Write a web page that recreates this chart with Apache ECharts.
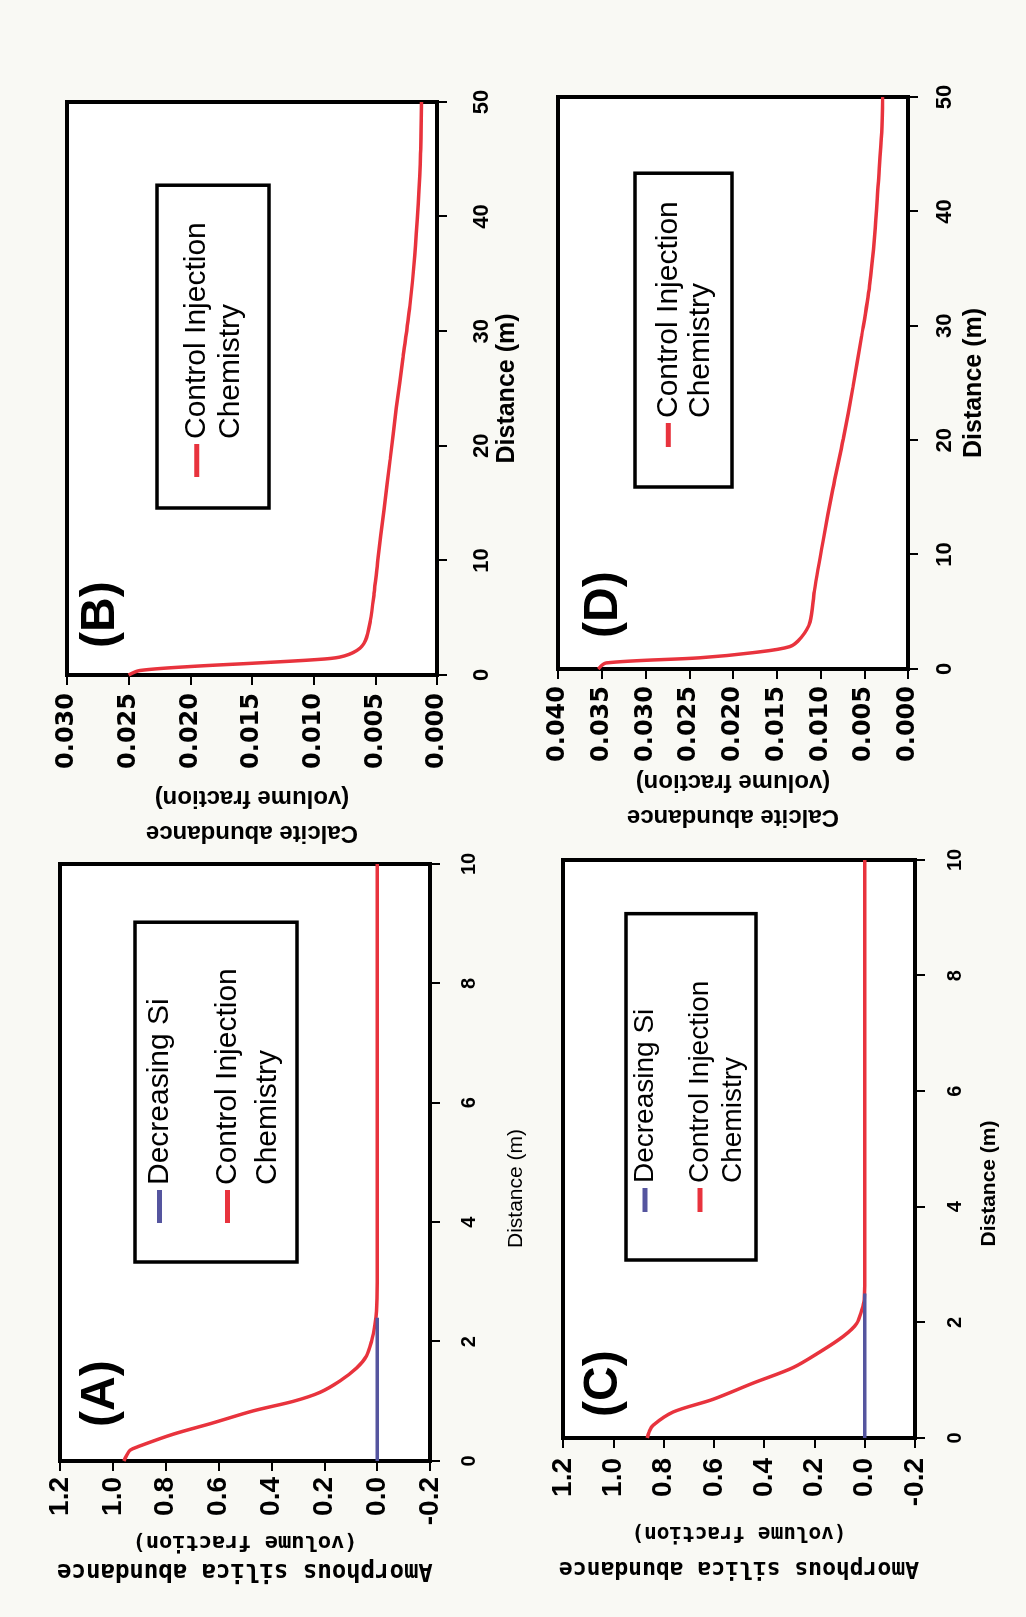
<!DOCTYPE html>
<html>
<head>
<meta charset="utf-8">
<script src="https://cdn.jsdelivr.net/npm/echarts@6/dist/echarts.min.js"></script>
<style>
html,body{margin:0;padding:0;background:#f9f9f4;overflow:hidden;width:1026px;height:1617px;}
#wrap{position:absolute;left:0;top:0;width:1617px;height:1026px;transform-origin:0 0;transform:translate(0,1617px) rotate(-90deg);}
#chart{width:1617px;height:1026px;}
</style>
</head>
<body>
<div id="wrap"><div id="chart"></div></div>
<script>
// ---------------- data ----------------
const CTRL = 'Control Injection Chemistry';
const SI = 'Decreasing Si';

// Panel A: amorphous silica, distance 0-10 m
const distCtrlA   = [0, 0.09, 0.18, 0.24, 0.45, 0.64, 0.84, 1.0, 1.15, 1.34, 1.56, 1.76, 2.01, 2.29, 2.51, 3.0, 4, 6, 8, 10];
const silicaCtrlA = [0.958, 0.948, 0.935, 0.905, 0.771, 0.62, 0.469, 0.317, 0.216, 0.141, 0.077, 0.04, 0.021, 0.008, 0.002, 0.0, 0, 0, 0, 0];
const distSiA     = [0, 0.6, 1.2, 1.8, 2.4];
const silicaSiA   = [0, 0, 0, 0, 0];

// Panel C: amorphous silica, distance 0-10 m
const distCtrlC   = [0, 0.1, 0.22, 0.45, 0.67, 0.95, 1.22, 1.49, 1.76, 1.98, 2.21, 2.39, 3, 4, 6, 8, 10];
const silicaCtrlC = [0.865, 0.858, 0.842, 0.762, 0.603, 0.444, 0.284, 0.178, 0.085, 0.032, 0.012, 0.002, 0, 0, 0, 0, 0];
const distSiC     = [0, 0.6, 1.2, 1.8, 2.5];
const silicaSiC   = [0, 0, 0, 0, 0];

// Panel B: calcite, distance 0-50 m
const distCtrlB    = [0, 0.39, 0.74, 1.03, 1.33, 1.56, 2.14, 3.0, 4.76, 7.1, 10, 14.4, 18.8, 23.3, 27.7, 32.2, 36.6, 41.1, 45.5, 50];
const calciteCtrlB = [0.0250, 0.0241, 0.0200, 0.0149, 0.0100, 0.0079, 0.0065, 0.0058, 0.0054, 0.0051, 0.0048, 0.0043, 0.0038, 0.0033, 0.00275, 0.0022, 0.0018, 0.00153, 0.00134, 0.00126];

// Panel D: calcite, distance 0-50 m
const distCtrlD    = [0, 0.53, 0.98, 1.43, 1.96, 2.76, 4.1, 6.8, 11.2, 15.7, 20.1, 24.6, 29.1, 33.5, 38.0, 42.4, 46.9, 50];
const calciteCtrlD = [0.0354, 0.0345, 0.0238, 0.0177, 0.0135, 0.0122, 0.0112, 0.0107, 0.0097, 0.0086, 0.0074, 0.0063, 0.0053, 0.0044, 0.0038, 0.0034, 0.0030, 0.0029];

// tick values
const silicaTicks   = [-0.2, 0.0, 0.2, 0.4, 0.6, 0.8, 1.0, 1.2];
const calciteTicksB = [0.000, 0.005, 0.010, 0.015, 0.020, 0.025, 0.030];
const calciteTicksD = [0.000, 0.005, 0.010, 0.015, 0.020, 0.025, 0.030, 0.035, 0.040];
const distTicksShort = [0, 2, 4, 6, 8, 10];
const distTicksLong  = [0, 10, 20, 30, 40, 50];

// ---------------- styling ----------------
const FONT = "'Liberation Sans', Arial, Helvetica, sans-serif";
const NARROW = "'Liberation Sans Narrow', 'Arial Narrow', 'Liberation Sans', Arial, sans-serif";
const WIDE = "'DejaVu Sans', Verdana, sans-serif";
const MONO = "'DejaVu Sans Mono', 'Liberation Mono', monospace";
const RED = '#e8333d';
const BLUE = '#55559f';
const INK = '#000';

const pair = (xs, ys) => xs.map((x, i) => [x, ys[i]]);
const stepOf = t => +(t[1] - t[0]).toFixed(6);

function xAx(gi, ticks, o) {
  return {
    gridIndex: gi, type: 'value',
    min: ticks[0], max: ticks[ticks.length - 1], interval: stepOf(ticks),
    axisLine: {show: true, onZero: false, lineStyle: {color: INK, width: 4}},
    axisTick: {show: true, length: 10, lineStyle: {color: INK, width: 2}},
    splitLine: {show: false},
    axisLabel: {margin: o.lm, fontSize: o.lfs, fontWeight: 'bold', fontFamily: FONT, color: INK},
    name: 'Distance (m)', nameLocation: 'middle', nameGap: o.ng,
    nameTextStyle: {fontSize: o.nfs, fontWeight: o.nfw, fontFamily: FONT, color: INK, padding: o.npad || 0}
  };
}

function yAx(gi, ticks, o) {
  return {
    gridIndex: gi, type: 'value',
    min: ticks[0], max: ticks[ticks.length - 1], interval: stepOf(ticks),
    axisLine: {show: true, onZero: false, lineStyle: {color: INK, width: 4}},
    axisTick: {show: true, length: 10, lineStyle: {color: INK, width: 2}},
    splitLine: {show: false},
    axisLabel: {
      margin: o.lm, fontSize: o.lfs, fontWeight: 'bold', fontFamily: o.lff, color: INK,
      formatter: v => (Math.abs(v) < 1e-9 ? 0 : v).toFixed(o.dec)
    },
    name: o.name, nameLocation: 'middle', nameGap: o.ng, nameRotate: 90,
    nameTextStyle: {color: INK, rich: o.rich}
  };
}

// legend: the two-line entry gets an empty first line so that its
// first text line sits level with the legend line icon
function legendCfg(o) {
  return {
    orient: 'vertical', left: o.left, top: o.top, padding: o.pad, itemGap: o.gap || 0,
    itemWidth: o.iw, itemHeight: 5, icon: 'rect',
    borderColor: INK, borderWidth: 3.5, backgroundColor: '#fff', borderRadius: 0,
    selectedMode: false,
    textStyle: {fontFamily: FONT, fontSize: o.fs || 30, color: INK, lineHeight: o.lh},
    formatter: n => n === CTRL ? ' \nControl Injection\nChemistry' : n,
    data: o.names
  };
}

function panelTitle(text, left, top) {
  return {text, left, top, padding: 0,
    textStyle: {fontSize: 48, fontWeight: 'bold', fontFamily: FONT, color: INK}};
}

const lineSeries = (name, gi, data, color) => ({
  type: 'line', name, xAxisIndex: gi, yAxisIndex: gi, data,
  showSymbol: false, symbol: 'none', smooth: 0.3,
  lineStyle: {color, width: 3.5}, itemStyle: {color}, emphasis: {disabled: true}
});

const silicaName = '{a|Amorphous silica abundance}\n{b|(volume fraction)}';
const calciteName = '{a|Calcite abundance}\n{b|(volume fraction)}';

const option = {
  animation: false,
  backgroundColor: 'transparent',
  title: [
    panelTitle('(A)', 190, 77),
    panelTitle('(B)', 969, 77),
    panelTitle('(C)', 200, 580),
    panelTitle('(D)', 979, 580)
  ],
  legend: [
    legendCfg({left: 355, top: 135, pad: [4.5, 46, 9.5, 39], gap: -12, iw: 33, lh: 40, names: [SI, CTRL]}),
    legendCfg({left: 1109, top: 157, pad: [-11.3, 37, 21.3, 31], iw: 33, lh: 34, names: [CTRL]}),
    legendCfg({left: 357, top: 626, pad: [2.5, 67, 6.5, 48], gap: -11, iw: 24, lh: 33, fs: 28, names: [SI, CTRL]}),
    legendCfg({left: 1130, top: 635, pad: [-14.7, 28, 15.7, 40], iw: 24, lh: 32, names: [CTRL]})
  ],
  grid: [
    {left: 156, top: 60, width: 597, height: 370},
    {left: 942, top: 67, width: 573, height: 370},
    {left: 179, top: 563, width: 578, height: 352},
    {left: 948, top: 558, width: 572, height: 350}
  ].map(g => Object.assign({show: true, borderColor: INK, borderWidth: 4, backgroundColor: '#fff'}, g)),
  xAxis: [
    xAx(0, distTicksShort, {lm: 29, lfs: 20, ng: 76, nfs: 21, nfw: 'normal', npad: [0, 52, 0, 0]}),
    xAx(1, distTicksLong,  {lm: 34, lfs: 22, ng: 58, nfs: 25, nfw: 'bold'}),
    xAx(2, distTicksShort, {lm: 30, lfs: 20, ng: 64, nfs: 21, nfw: 'bold', npad: [0, 69, 0, 0]}),
    xAx(3, distTicksLong,  {lm: 26, lfs: 22, ng: 54, nfs: 25, nfw: 'bold'})
  ],
  yAxis: [
    yAx(0, silicaTicks, {lm: 16, lfs: 28, lff: NARROW, dec: 1, name: silicaName, ng: 67,
      rich: {a: {fontFamily: MONO, fontWeight: 'bold', fontSize: 24, lineHeight: 28, color: INK},
             b: {fontFamily: MONO, fontWeight: 'bold', fontSize: 22, lineHeight: 28, color: INK}}}),
    yAx(1, calciteTicksB, {lm: 18, lfs: 24, lff: WIDE, dec: 3, name: calciteName, ng: 105,
      rich: {a: {fontFamily: FONT, fontWeight: 'bold', fontSize: 24, lineHeight: 35, color: INK},
             b: {fontFamily: FONT, fontWeight: 'bold', fontSize: 24, lineHeight: 35, color: INK}}}),
    yAx(2, silicaTicks, {lm: 20, lfs: 28, lff: NARROW, dec: 1, name: silicaName, ng: 76,
      rich: {a: {fontFamily: MONO, fontWeight: 'bold', fontSize: 23, lineHeight: 36, color: INK},
             b: {fontFamily: MONO, fontWeight: 'bold', fontSize: 21, lineHeight: 36, color: INK}}}),
    yAx(3, calciteTicksD, {lm: 17, lfs: 24, lff: WIDE, dec: 3, name: calciteName, ng: 95,
      rich: {a: {fontFamily: FONT, fontWeight: 'bold', fontSize: 24, lineHeight: 35, color: INK},
             b: {fontFamily: FONT, fontWeight: 'bold', fontSize: 24, lineHeight: 35, color: INK}}})
  ],
  series: [
    lineSeries(CTRL, 0, pair(distCtrlA, silicaCtrlA), RED),
    lineSeries(SI,   0, pair(distSiA, silicaSiA), BLUE),
    lineSeries(CTRL, 1, pair(distCtrlB, calciteCtrlB), RED),
    lineSeries(CTRL, 2, pair(distCtrlC, silicaCtrlC), RED),
    lineSeries(SI,   2, pair(distSiC, silicaSiC), BLUE),
    lineSeries(CTRL, 3, pair(distCtrlD, calciteCtrlD), RED)
  ]
};

const chart = echarts.init(document.getElementById('chart'), null, {renderer: 'canvas'});
chart.setOption(option);
</script>
</body>
</html>
